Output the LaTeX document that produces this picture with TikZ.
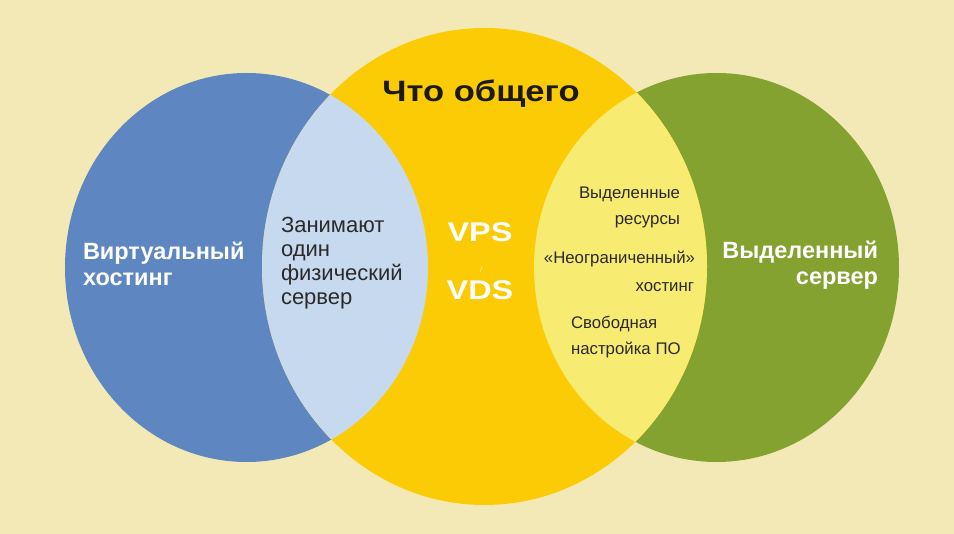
\documentclass[tikz,border=0pt]{standalone}
\usepackage{graphicx}
\usepackage{fontspec}
\setmainfont{Liberation Sans}
\definecolor{bgc}{HTML}{F3E9B6}
\definecolor{bluec}{HTML}{5E86C1}
\definecolor{lbluec}{HTML}{C7D9EE}
\definecolor{yellowc}{HTML}{FBCB05}
\definecolor{lyellowc}{HTML}{F8EB72}
\definecolor{greenc}{HTML}{84A22F}
\definecolor{darkc}{HTML}{2A2A2A}
\definecolor{titlec}{HTML}{1C1A10}
\tikzset{
  txt/.style={inner sep=0pt, outer sep=0pt},
  whitelbl/.style={txt, text=white, font=\fontsize{23.5}{26}\selectfont\bfseries},
  lenstxt/.style={txt, text=darkc, font=\fontsize{22}{24}\selectfont},
  smalltxt/.style={txt, text=darkc, font=\fontsize{16.8}{18}\selectfont},
  vtxt/.style={txt, text=white, font=\fontsize{27}{30}\selectfont\bfseries},
}
\begin{document}
\begin{tikzpicture}[x=1pt,y=-1pt]
\useasboundingbox (0,0) rectangle (954,534);
\fill[bgc] (0,0) rectangle (954,534);
% circles
\def\blueell{(246.5,267.5) ellipse [x radius=181.5pt, y radius=194.5pt]}
\def\yellowell{(484.5,266.5) ellipse [x radius=222.5pt, y radius=238.5pt]}
\def\greenell{(716.5,267.5) ellipse [x radius=182.5pt, y radius=194.5pt]}
\fill[bluec] \blueell;
\fill[greenc] \greenell;
\fill[yellowc] \yellowell;
\begin{scope}
  \clip \blueell;
  \fill[lbluec] \yellowell;
\end{scope}
\begin{scope}
  \clip \greenell;
  \fill[lyellowc] \yellowell;
\end{scope}
% title
\node[txt, text=titlec, font=\fontsize{29.5}{32}\selectfont\bfseries, anchor=base] (title) at (481,102) {\scalebox{1.17}[1]{Что общего}};
% left label
\node[whitelbl, anchor=base west] (vl1) at (83,260) {Виртуальный};
\node[whitelbl, anchor=base west] (vl2) at (83,286) {хостинг};
% left lens
\node[lenstxt, anchor=base west] (ll1) at (281,233) {Занимают};
\node[lenstxt, anchor=base west] (ll2) at (281,257) {один};
\node[lenstxt, anchor=base west] (ll3) at (281,281) {физический};
\node[lenstxt, anchor=base west] (ll4) at (281,305) {сервер};
% centre
\node[vtxt, anchor=base] (vps) at (480,242) {\scalebox{1.2}[1]{VPS}};
\node[txt, text=white!85!yellowc, font=\fontsize{7}{8}\selectfont, anchor=base] (slash) at (481,273) {/};
\node[vtxt, anchor=base] (vds) at (480,300) {\scalebox{1.2}[1]{VDS}};
% right lens
\node[smalltxt, anchor=base east] (rl1) at (680,199) {Выделенные};
\node[smalltxt, anchor=base east] (rl2) at (680,225) {ресурсы};
\node[smalltxt, anchor=base east] (rl3) at (695,264) {«Неограниченный»};
\node[smalltxt, anchor=base east] (rl4) at (694,292) {хостинг};
\node[smalltxt, anchor=base west] (rl5) at (571,329) {Свободная};
\node[smalltxt, anchor=base west] (rl6) at (571,355) {настройка ПО};
% right label
\node[whitelbl, anchor=base east] (dl1) at (878,259) {Выделенный};
\node[whitelbl, anchor=base east] (dl2) at (878,285) {сервер};
\end{tikzpicture}
\end{document}
